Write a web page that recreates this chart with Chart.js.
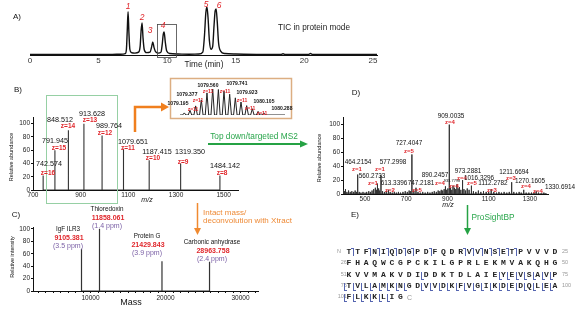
<!DOCTYPE html>
<html>
<head>
<meta charset="utf-8">
<script src="https://cdn.jsdelivr.net/npm/chart.js@4.4.1/dist/chart.umd.min.js"></script>
<style>
    body { margin: 0; width: 576px; height: 321px; overflow: hidden; background: #fff; position: relative; font-family: "Liberation Sans", Arial, sans-serif; }
    canvas { position: absolute; }
    .t { position: absolute; white-space: nowrap; line-height: 1; transform: translate(-50%, -50%); color: #111; }
    .L { transform: translate(0, -50%); }
    .pl { font-size: 8px; }
    .pk { font-size: 8.5px; font-style: italic; color: #e0262b; }
    .tx { font-size: 8.2px; color: #222; }
    .bn { font-size: 7.2px; }
    .bz { font-size: 6.5px; font-weight: bold; color: #e0262b; }
    .dn { font-size: 6.4px; }
    .dz { font-size: 6px; font-weight: bold; color: #e0262b; }
    .tiny { font-size: 4px; }
    .in { font-size: 5px; font-weight: bold; }
    .iz { font-size: 5px; font-weight: bold; color: #e0262b; }
    .mz { font-size: 7px; font-style: italic; }
    .yt { font-size: 5.5px; transform: translate(-50%, -50%) rotate(-90deg); }
    .gr { font-size: 8.3px; color: #2aa64c; }
    .or { font-size: 8px; color: #ee8a36; }
    .cn { font-size: 6.3px; }
    .cm { font-size: 7px; font-weight: bold; color: #e0262b; }
    .cp { font-size: 7px; color: #7a5fa5; }
    .ax { font-size: 9px; }
    .aa { position: absolute; font-family: "Liberation Mono", "Courier New", monospace; font-weight: bold; font-size: 8px; line-height: 1; transform: translate(-50%, -50%); color: #222; }
    .sn { position: absolute; font-size: 5.5px; color: #999; line-height: 1; transform: translate(0, -50%); }
    .mk { position: absolute; border-color: #5565b0; border-style: solid; border-width: 0; }
</style>
</head>
<body>
<canvas id="ticChart" width="390" height="70" style="left:0;top:0"></canvas>
<canvas id="msChart" width="245" height="100" style="left:0;top:105px"></canvas>
<canvas id="isoChart" width="120" height="38" style="left:171px;top:79px"></canvas>
<canvas id="ms2Chart" width="276" height="105" style="left:300px;top:105px"></canvas>
<canvas id="deconvChart" width="265" height="90" style="left:0;top:215px"></canvas>

<svg width="576" height="321" style="position:absolute;left:0;top:0">
    <rect x="157.5" y="24.5" width="19" height="33" fill="none" stroke="#444" stroke-width="0.8"/>
    <rect x="46.5" y="95.5" width="71" height="108" fill="none" stroke="#96d0a4" stroke-width="1"/>
    <rect x="170.5" y="78.5" width="121" height="40" fill="none" stroke="#dcae82" stroke-width="1.5"/>
    <polyline points="135,132 135,107 162,107" fill="none" stroke="#f07f1e" stroke-width="2.5"/>
    <polygon points="161,102.5 169,107 161,111.5" fill="#f07f1e"/>
    <line x1="208" y1="144" x2="301" y2="144" stroke="#25a244" stroke-width="2"/>
    <polygon points="300,140.5 308,144 300,147.5" fill="#25a244"/>
    <line x1="197.5" y1="203" x2="197.5" y2="229" stroke="#f08a30" stroke-width="1.5"/>
    <polygon points="194,228 197.5,235 201,228" fill="#f08a30"/>
    <line x1="467.5" y1="205" x2="467.5" y2="229" stroke="#25a244" stroke-width="1.5"/>
    <polygon points="464,228 467.5,235 471,228" fill="#25a244"/>
</svg>
<div id="notes"></div>
<div id="sequence"></div>

<script>
// ---------- A) total ion chromatogram ----------
const ticTime = [0, 2, 4, 6, 6.6, 6.95, 7.03, 7.09, 7.15, 7.21, 7.28, 7.4, 7.65, 7.92, 8.03, 8.1, 8.17, 8.24, 8.33, 8.5,
    8.75, 8.86, 8.95, 9.04, 9.15, 9.35, 9.55, 9.64, 9.71, 9.78, 9.86, 9.96, 10.2, 10.8, 11.6, 12.3, 12.6, 12.72, 12.82, 12.9,
    12.98, 13.08, 13.2, 13.32, 13.42, 13.5, 13.57, 13.65, 13.75, 13.9, 14.2, 15, 16.5, 18.3, 18.45, 18.6, 19.5, 20.3, 20.45, 20.6,
    21.5, 23, 25.3];
const ticSignal = [1, 1, 1, 1.2, 1.6, 3, 12, 50, 90, 48, 12, 5, 4, 6, 18, 50, 67, 36, 11, 5,
    6, 16, 27, 16, 7, 4, 6, 22, 42, 48, 28, 9, 3, 2, 1.5, 2, 6, 40, 88, 100,
    78, 30, 12, 18, 62, 92, 96, 70, 25, 8, 3, 2, 1.2, 1, 2.5, 1, 1, 1, 3, 1,
    1, 1, 1];
const ticTicks = [0, 5, 10, 15, 20, 25];

// ---------- B) full MS of peak 4 ----------
const msMz = [742.574, 791.945, 848.512, 913.628, 989.764, 1079.651, 1187.415, 1319.350, 1484.142];
const msAbund = [22, 60, 90, 100, 82, 62, 45, 40, 22];
const msCharge = [16, 15, 14, 13, 12, 11, 10, 9, 8];
const msTicks = [700, 900, 1100, 1300, 1500];
const abundTicks = [0, 20, 40, 60, 80, 100];

// inset: isotopes of the z=11 ion
const isoMz = [1079.104, 1079.195, 1079.286, 1079.377, 1079.468, 1079.560, 1079.651, 1079.741, 1079.832, 1079.923,
    1080.014, 1080.105, 1080.196, 1080.288, 1080.379];
const isoAbund = [8, 18, 35, 58, 85, 100, 98, 92, 80, 66, 50, 36, 24, 14, 8];

// ---------- C) deconvoluted masses ----------
const proteinNames = ['IgF ILR3', 'Thioredoxin', 'Protein G', 'Carbonic anhydrase'];
const proteinMass = ['9105.381', '11858.061', '21429.843', '28963.758'];
const proteinPpm = ['(3.5 ppm)', '(1.4 ppm)', '(3.9 ppm)', '(2.4 ppm)'];
const deconvMass = [8800, 11200, 19530, 25870];   // where the peaks sit on the drawn mass axis
const deconvInt = [68, 100, 48, 47];
const massTickLabels = [10000, 20000, 30000];

// ---------- D) MS2 of z=11 ----------
const ms2Mz = [395, 400, 405, 412, 420, 428, 436, 445, 452, 458, 464.2154, 472, 480, 490, 500, 508, 518, 526, 534, 542,
    550, 555, 560.2733, 566, 571, 577.2998, 585, 594, 603, 613.3396, 622, 632, 642, 652, 662, 672, 684, 695, 705, 714,
    720, 727.4047, 737, 747.2181, 757, 768, 780, 792, 804, 815, 826, 836, 846, 855, 863, 870, 877, 884, 890.2457, 896,
    902, 909.0035, 915, 921, 927, 933.7798, 940, 946, 952, 958, 965, 973.2881, 980, 988, 996, 1005, 1016.3296, 1026, 1038, 1050,
    1062, 1075, 1088, 1100, 1112.2782, 1125, 1138, 1150, 1162, 1175, 1188, 1200, 1211.6694, 1222, 1235, 1248, 1258, 1270.1605, 1282, 1295,
    1308, 1320, 1330.6914, 1342, 1355, 1368, 1378];
const ms2Abund = [6, 4, 7, 3, 5, 3, 4, 3, 5, 3, 28, 3, 2, 3, 2, 3, 4, 3, 5, 7,
    9, 6, 15, 8, 5, 27, 4, 3, 4, 6, 3, 2, 3, 2, 3, 2, 3, 4, 3, 5,
    4, 57, 5, 9, 3, 2, 3, 2, 3, 2, 3, 4, 3, 5, 4, 6, 5, 7, 11, 6,
    8, 100, 9, 6, 12, 9, 7, 14, 8, 10, 6, 20, 7, 5, 8, 6, 12, 4, 3, 5,
    3, 4, 3, 3, 7, 3, 2, 3, 2, 3, 2, 3, 17, 3, 2, 3, 2, 6, 2, 2,
    2, 2, 4, 2, 1, 2, 1];
const ms2Ticks = [500, 700, 900, 1100, 1300];

// ---------- E) sequence coverage ----------
const seqRows = ['TTFNIQDGPDFQDRVVNSETPVVVD', 'FHAQWCGPCKILGPRLEKMVAKQHG', 'KVVMAKVDIDDKTDLAIEYEVSAVP',
    'TVLAMKNGDVVDKFVGIKDEDQLEA', 'FLKKLIG'];
const seqStart = ['N', '26', '51', '76', '101'];
const seqEnd = ['25', '50', '75', '100', 'C'];
const bSites = [1, 3, 4, 5, 6, 7, 8, 10, 14, 15, 16, 17, 18, 19, 20];
const ySites = [60, 69, 70, 71, 72, 73, 74, 75, 76, 77, 78, 79, 80, 81, 82, 83, 85, 86, 87, 88, 89, 90, 91, 92,
    93, 94, 95, 96, 97, 98, 99, 100, 101, 102, 103, 104, 105, 106];

// ---------- helpers ----------
Chart.defaults.font.family = '"Liberation Sans", Arial, sans-serif';
Chart.defaults.color = '#222';
const tickFont = { size: 6.5 };

function fixedTicks(list) {
    return scale => { scale.ticks = list.map(v => ({ value: v })); };
}

function stickPoints(xs, ys) {
    const pts = [];
    xs.forEach((x, i) => { pts.push({ x, y: 0 }, { x, y: ys[i] }, { x, y: 0 }); });
    return pts;
}

function profilePoints(xs, ys, half, from, to) {
    const pts = [{ x: from, y: 0 }];
    xs.forEach((x, i) => { pts.push({ x: x - half, y: 0 }, { x, y: ys[i] }, { x: x + half, y: 0 }); });
    pts.push({ x: to, y: 0 });
    return pts;
}

function xAxis(min, max, ticks, height, more) {
    return Object.assign({
        type: 'linear', min, max,
        border: { color: '#111', width: 1 },
        grid: { display: false, drawTicks: false, tickLength: 0 },
        ticks: { font: tickFont, color: '#222', padding: 1, maxRotation: 0, autoSkip: false, callback: v => v },
        afterBuildTicks: fixedTicks(ticks),
        afterFit: s => { s.height = height; }
    }, more || {});
}

function yAxis(max, ticks, width) {
    return {
        type: 'linear', min: 0, max,
        border: { color: '#111', width: 1 },
        grid: { drawOnChartArea: false, tickLength: 2, color: '#111' },
        ticks: { font: tickFont, color: '#222', padding: 1, autoSkip: false },
        afterBuildTicks: fixedTicks(ticks),
        afterFit: s => { s.width = width; }
    };
}

function drawTrace(id, points, cfg) {
    return new Chart(document.getElementById(id), {
        type: 'scatter',
        data: {
            datasets: [{
                data: points, showLine: true, pointRadius: 0,
                borderColor: cfg.color || '#2a2a2a', borderWidth: cfg.lineWidth || 1,
                cubicInterpolationMode: cfg.smooth ? 'monotone' : 'default', tension: 0
            }]
        },
        options: {
            responsive: false, animation: false, devicePixelRatio: 1,
            layout: { padding: cfg.padding },
            plugins: { legend: { display: false }, tooltip: { enabled: false } },
            scales: { x: cfg.x, y: cfg.y }
        }
    });
}

// ---------- charts ----------
drawTrace('ticChart', ticTime.map((t, i) => ({ x: t, y: ticSignal[i] })), {
    color: '#111', lineWidth: 1.4, smooth: true,
    padding: { left: 30, right: 13, top: 7, bottom: 0 },
    x: xAxis(0, 25.3, ticTicks, 15, { ticks: { font: { size: 8 }, color: '#333', padding: 1, maxRotation: 0, autoSkip: false } }),
    y: { display: false, min: 0, max: 100 }
});

drawTrace('msChart', stickPoints(msMz, msAbund), {
    color: '#333', lineWidth: 1.1,
    padding: { left: 0, right: 7, top: 12, bottom: 0 },
    x: xAxis(700, 1560, msTicks, 15),
    y: yAxis(110, abundTicks, 33)
});

drawTrace('isoChart', profilePoints(isoMz, isoAbund, 0.028, 1079.035, 1080.72), {
    color: '#222', lineWidth: 1,
    padding: { left: 9, right: 6, top: 10, bottom: 2 },
    x: { display: false, type: 'linear', min: 1079.035, max: 1080.72 },
    y: { display: false, min: 0, max: 100 }
});

drawTrace('ms2Chart', stickPoints(ms2Mz, ms2Abund), {
    color: '#333', lineWidth: 1,
    padding: { left: 0, right: 28, top: 12, bottom: 0 },
    x: xAxis(393, 1388, ms2Ticks, 16),
    y: yAxis(111, abundTicks, 43)
});

const minorMass = [];
for (let m = 3000; m <= 32000; m += 1000) minorMass.push(m);
drawTrace('deconvChart', stickPoints(deconvMass, deconvInt), {
    color: '#333', lineWidth: 1.2,
    padding: { left: 0, right: 7, top: 12, bottom: 0 },
    x: xAxis(2333, 32333, minorMass, 14, {
        grid: { display: true, drawOnChartArea: false, tickLength: 2, color: '#111' },
        ticks: { font: tickFont, color: '#222', padding: 1, maxRotation: 0, autoSkip: false,
            callback: v => massTickLabels.includes(v) ? v : '' }
    }),
    y: yAxis(103, abundTicks, 33)
});

// ---------- text annotations ----------
const notes = [
    ['A)', 17, 17, 'pl'], ['TIC in protein mode', 314, 28, 'tx'], ['Time (min)', 204, 65, 'tx'],
    ['1', 128, 6, 'pk'], ['2', 142, 17, 'pk'], ['3', 150, 30, 'pk'], ['4', 163, 25, 'pk'], ['5', 206, 4, 'pk'], ['6', 219, 5, 'pk'],

    ['B)', 18, 90, 'pl'], ['Relative abundance', 12, 157, 'yt'], ['m/z', 147, 199, 'mz'],
    ['Top down/targeted MS2', 254, 136, 'gr'],

    ['D)', 356, 93, 'pl'], ['Relative abundance', 320, 158, 'yt'], ['m/z', 448, 204, 'mz'],
    ['909.0035', 451, 116, 'dn'], ['z=4', 450, 122, 'dz'],
    ['727.4047', 409, 143, 'dn'], ['z=5', 409, 151, 'dz'],
    ['464.2154', 358, 162, 'dn'], ['z=1', 357, 169, 'dz'],
    ['577.2998', 393, 162, 'dn'], ['z=1', 380, 169, 'dz'],
    ['560.2733', 372, 176, 'dn'], ['z=1', 373, 183, 'dz'],
    ['613.3396', 394, 183, 'dn'], ['z=2', 390, 190, 'dz'],
    ['747.2181', 421, 183, 'dn'], ['z=5', 417, 190, 'dz'],
    ['890.2457', 435, 175, 'dn'], ['z=4', 440, 183, 'dz'],
    ['933.7798', 452, 181, 'tiny'], ['z=4', 454, 186, 'dz'],
    ['973.2881', 468, 171, 'dn'], ['z=4', 462, 178, 'dz'],
    ['1016.3296', 479, 178, 'dn'], ['z=5', 472, 183, 'dz'],
    ['1112.2782', 493, 183, 'dn'], ['z=3', 492, 190, 'dz'],
    ['1211.6694', 514, 172, 'dn'], ['z=3', 511, 178, 'dz'],
    ['1270.1605', 530, 181, 'dn'], ['z=4', 526, 186, 'dz'],
    ['1330.6914', 560, 187, 'dn'], ['z=4', 538, 191, 'dz'],

    ['1079.560', 208, 85, 'in'], ['1079.741', 237, 83, 'in'], ['1079.377', 187, 94, 'in'], ['1079.923', 247, 92, 'in'],
    ['1079.195', 178, 103, 'in'], ['1080.105', 264, 101, 'in'], ['1080.288', 282, 108, 'in'],
    ['z=11', 208, 91, 'iz'], ['z=11', 225, 91, 'iz'], ['z=11', 198, 100, 'iz'], ['z=11', 242, 100, 'iz'],
    ['z=11', 193, 109, 'iz'], ['z=11', 250, 108, 'iz'], ['z=11', 262, 113, 'iz'],

    ['C)', 16, 215, 'pl'], ['Relative intensity', 13, 257, 'yt'], ['Mass', 131, 302, 'ax'],
    ['Intact mass/', 203, 213, 'or L'], ['deconvolution with Xtract', 203, 221, 'or L'],
    ['E)', 355, 215, 'pl'], ['ProSightBP', 493, 217, 'gr']
];

// B) peak labels
const msLabelPos = [[49, 164, 48, 173], [55, 141, 59, 148], [60, 120, 68, 126], [92, 114, 90, 120], [109, 126, 105, 133],
    [133, 142, 128, 148], [157, 152, 153, 158], [190, 152, 183, 162], [225, 166, 222, 173]];
msMz.forEach((m, i) => {
    const p = msLabelPos[i];
    notes.push([m.toFixed(3), p[0], p[1], 'bn'], ['z=' + msCharge[i], p[2], p[3], 'bz']);
});

// C) protein labels
const protLabelPos = [[68, 229], [107, 209], [147, 236], [212, 242]];
proteinNames.forEach((n, i) => {
    const [x, y] = protLabelPos[i];
    notes.push([n, x, y, 'cn'], [proteinMass[i], x + 1, y + 7.5, 'cm'], [proteinPpm[i], x, y + 15.5, 'cp']);
});

const notesEl = document.getElementById('notes');
notes.forEach(([text, x, y, cls]) => {
    const d = document.createElement('div');
    d.className = 't ' + cls;
    d.textContent = text;
    d.style.left = x + 'px';
    d.style.top = y + 'px';
    notesEl.appendChild(d);
});

// E) sequence with fragment markers
const seqEl = document.getElementById('sequence');
const rowY = [252, 263, 274.5, 285.5, 297];
const colX = i => 349 + i * 8.58;
let residue = 0;
seqRows.forEach((row, r) => {
    const y = rowY[r];
    const s = document.createElement('div');
    s.className = 'sn';
    s.textContent = seqStart[r];
    s.style.left = (r === 0 ? 337 : 347 - seqStart[r].length * 3.1) + 'px';
    s.style.top = y + 'px';
    seqEl.appendChild(s);
    [...row].forEach((aa, i) => {
        residue++;
        const a = document.createElement('div');
        a.className = 'aa';
        a.textContent = aa;
        a.style.left = colX(i) + 'px';
        a.style.top = y + 'px';
        seqEl.appendChild(a);
        if (bSites.includes(residue)) {
            const m = document.createElement('div');
            m.className = 'mk';
            Object.assign(m.style, { left: (colX(i) + 2.3) + 'px', top: (y - 4) + 'px', width: '2px', height: '7px',
                borderTopWidth: '1px', borderRightWidth: '1px' });
            seqEl.appendChild(m);
        }
        if (ySites.includes(residue)) {
            const m = document.createElement('div');
            m.className = 'mk';
            Object.assign(m.style, { left: (colX(i) - 4.8) + 'px', top: (y - 3) + 'px', width: '2px', height: '7px',
                borderBottomWidth: '1px', borderLeftWidth: '1px' });
            seqEl.appendChild(m);
        }
    });
    const e = document.createElement('div');
    e.className = 'sn';
    e.textContent = seqEnd[r];
    e.style.left = (r === 4 ? colX(row.length) - 2 : 562) + 'px';
    e.style.top = y + 'px';
    if (r === 4) e.style.fontSize = '7px';
    seqEl.appendChild(e);
});
</script>
</body>
</html>
